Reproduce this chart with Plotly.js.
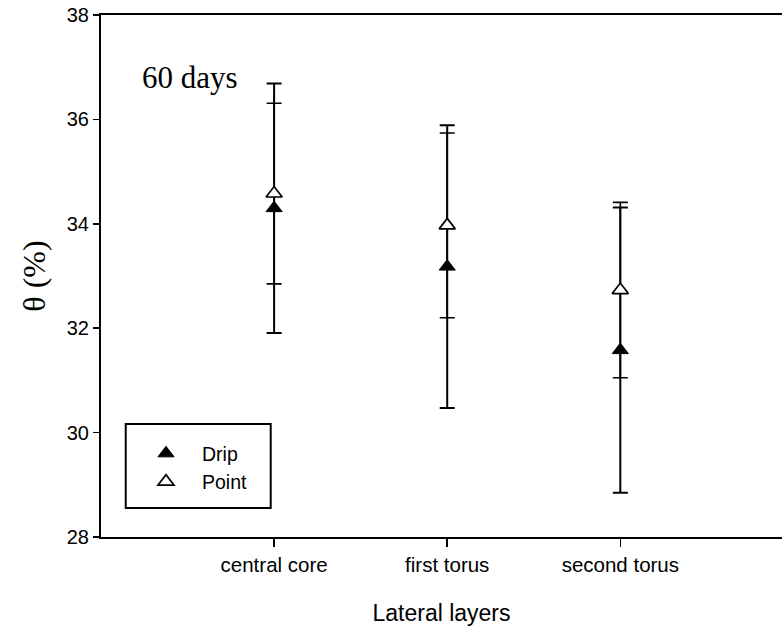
<!DOCTYPE html>
<html>
<head>
<meta charset="utf-8">
<script src="https://cdn.plot.ly/plotly-3.0.1.min.js"></script>
<style>
  html, body { margin: 0; padding: 0; background: #fff; }
  #chart { width: 782px; height: 631px; }
</style>
</head>
<body>
<div id="chart"></div>
<script>
// Lateral layers of the wetted soil volume
const layers = ['central core', 'first torus', 'second torus'];

// Mean volumetric water content θ (%) after 60 days and its error
const dripMean = [34.30, 33.18, 31.58];
const dripErr  = [2.39, 2.71, 2.73];
const pointMean = [34.58, 33.97, 32.73];
const pointErr  = [1.73, 1.77, 1.68];

const yTicks = [28, 30, 32, 34, 36, 38];

const sans = 'Liberation Sans, Arial, Helvetica, sans-serif';
const serif = 'Liberation Serif, Times New Roman, serif';

const drip = {
  type: 'scatter',
  mode: 'markers',
  name: 'Drip',
  x: layers,
  y: dripMean,
  error_y: { type: 'data', array: dripErr, visible: true, color: '#000', thickness: 2, width: 7.5 },
  marker: { symbol: 'triangle-up', size: 14, color: '#000', line: { color: '#000', width: 1 } }
};

const point = {
  type: 'scatter',
  mode: 'markers',
  name: 'Point',
  x: layers,
  y: pointMean,
  error_y: { type: 'data', array: pointErr, visible: true, color: '#000', thickness: 1.6, width: 7.5 },
  marker: { symbol: 'triangle-up', size: 14, color: '#fff', line: { color: '#000', width: 1.7 } }
};

const layout = {
  width: 782,
  height: 631,
  margin: { l: 101, r: 0, t: 15, b: 94 },
  paper_bgcolor: '#fff',
  plot_bgcolor: '#fff',
  showlegend: true,
  legend: {
    x: 0.0426, y: 0.197, xanchor: 'left', yanchor: 'top',
    bgcolor: 'rgba(0,0,0,0)', borderwidth: 0,
    itemwidth: 62, tracegroupgap: 0,
    font: { family: sans, size: 19.5, color: '#000' }
  },
  xaxis: {
    type: 'category',
    range: [-1, 2.934],
    showline: true, linecolor: '#000', linewidth: 2, mirror: true,
    ticks: 'outside', ticklen: 8, tickwidth: 1.5, tickcolor: '#000',
    showgrid: false, zeroline: false,
    tickfont: { family: sans, size: 20.5, color: '#000' },
    title: { text: 'Lateral layers', font: { family: sans, size: 23, color: '#000' }, standoff: 30 }
  },
  yaxis: {
    range: [28, 38],
    tickvals: yTicks,
    ticktext: yTicks.map(String),
    showline: true, linecolor: '#000', linewidth: 2,
    ticks: 'outside', ticklen: 6, tickwidth: 1.5, tickcolor: '#000',
    showgrid: false, zeroline: false,
    tickfont: { family: sans, size: 20, color: '#000' },
    title: { text: 'θ (%)', font: { family: serif, size: 32, color: '#000' }, standoff: 12 }
  },
  shapes: [{
    type: 'rect', xref: 'paper', yref: 'paper',
    x0: 0.0363, x1: 0.2492, y0: 0.0556, y1: 0.2165,
    line: { color: '#000', width: 2 }, fillcolor: 'rgba(0,0,0,0)'
  }],
  annotations: [{
    text: '60 days', xref: 'paper', yref: 'paper',
    x: 0.0573, y: 0.881, xanchor: 'left', yanchor: 'middle',
    showarrow: false,
    font: { family: serif, size: 31, color: '#000' }
  }]
};

Plotly.newPlot('chart', [drip, point], layout, { displayModeBar: false, staticPlot: true });
</script>
</body>
</html>
